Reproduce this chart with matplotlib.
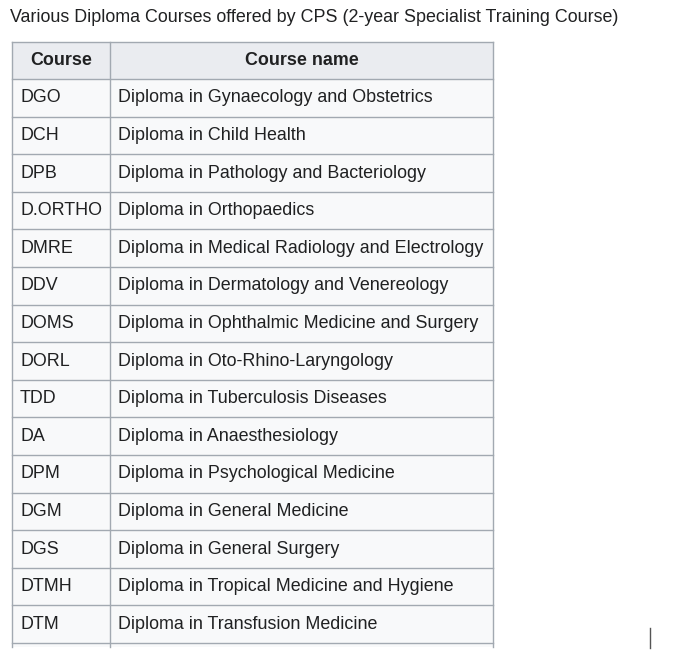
import matplotlib.pyplot as plt
from matplotlib.patches import Rectangle

title = "Various Diploma Courses offered by CPS (2-year Specialist Training Course)"
headers = ["Course", "Course name"]
codes = ["DGO", "DCH", "DPB", "D.ORTHO", "DMRE", "DDV", "DOMS", "DORL",
         "TDD", "DA", "DPM", "DGM", "DGS", "DTMH", "DTM"]
names = ["Diploma in Gynaecology and Obstetrics",
         "Diploma in Child Health",
         "Diploma in Pathology and Bacteriology",
         "Diploma in Orthopaedics",
         "Diploma in Medical Radiology and Electrology",
         "Diploma in Dermatology and Venereology",
         "Diploma in Ophthalmic Medicine and Surgery",
         "Diploma in Oto-Rhino-Laryngology",
         "Diploma in Tuberculosis Diseases",
         "Diploma in Anaesthesiology",
         "Diploma in Psychological Medicine",
         "Diploma in General Medicine",
         "Diploma in General Surgery",
         "Diploma in Tropical Medicine and Hygiene",
         "Diploma in Transfusion Medicine"]

plt.rcParams["font.family"] = "Liberation Sans"
fig = plt.figure(figsize=(6.95, 6.55), dpi=100)
ax = fig.add_axes([0, 0, 1, 1])
ax.set_xlim(0, 695)
ax.set_ylim(655, 0)
ax.axis("off")

txt = "#202122"
border = "#a2a9b1"
fs = 12.9
x0, x1, x2 = 12, 110, 493
top, hh, rh = 42, 37, 37.6

ax.text(10, 18, title, fontsize=fs, color=txt, va="center", ha="left")

# header
ax.add_patch(Rectangle((x0, top), x2 - x0, hh, facecolor="#eaecf0", edgecolor="none"))
ax.text((x0 + x1) / 2, top + hh / 2, headers[0], fontsize=fs, weight="bold",
        color=txt, ha="center", va="center")
ax.text((x1 + x2) / 2, top + hh / 2, headers[1], fontsize=fs, weight="bold",
        color=txt, ha="center", va="center")

y = top + hh
body_top = y
for code, name in zip(codes, names):
    ax.add_patch(Rectangle((x0, y), x2 - x0, rh, facecolor="#f8f9fa", edgecolor="none"))
    ax.text(x0 + 8, y + rh / 2, code, fontsize=fs, color=txt, va="center")
    ax.text(x1 + 8, y + rh / 2, name, fontsize=fs, color=txt, va="center")
    y += rh
bottom = y + 4
ax.add_patch(Rectangle((x0, y), x2 - x0, 4, facecolor="#f8f9fa", edgecolor="none"))

# grid lines
ax.plot([x0, x2], [top, top], color=border, lw=1)
yy = body_top
ax.plot([x0, x2], [yy, yy], color=border, lw=1)
for i in range(len(codes)):
    yy += rh
    ax.plot([x0, x2], [yy, yy], color=border, lw=1)
for xv in (x0, x1, x2):
    ax.plot([xv, xv], [top, bottom], color=border, lw=1)

# text cursor
ax.plot([650, 650], [628, 648], color="#555555", lw=1)

fig.savefig("out.png", dpi=100)
